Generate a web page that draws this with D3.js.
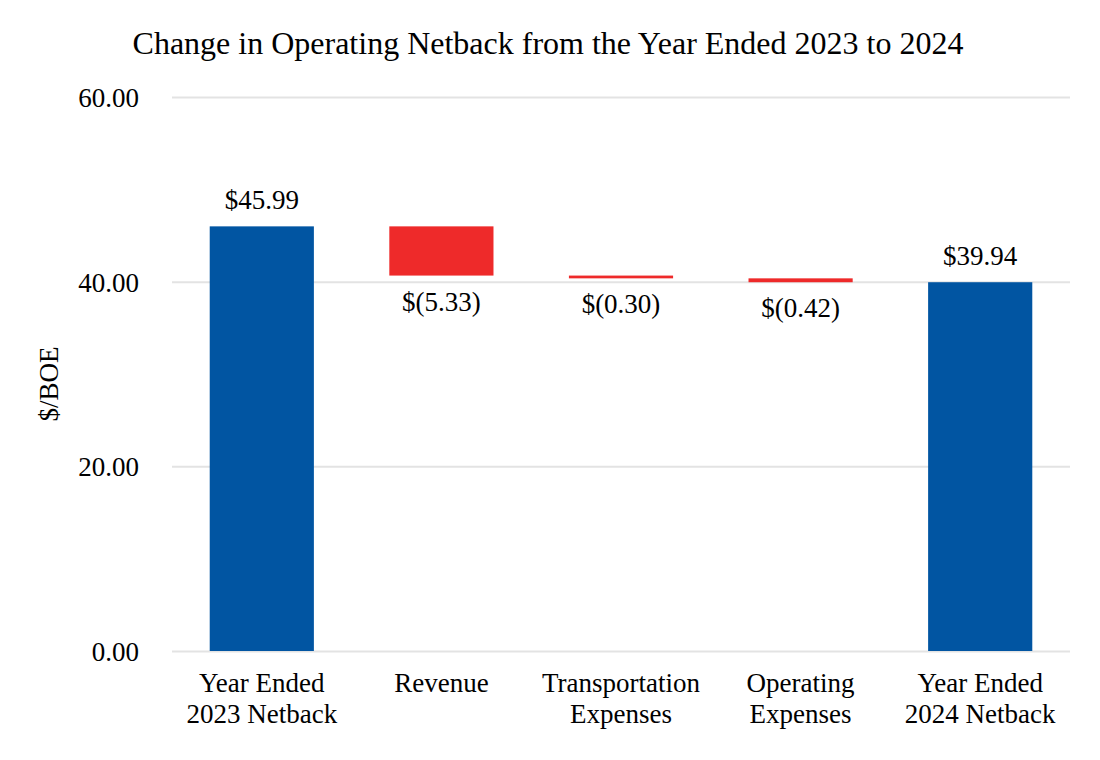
<html>
<meta http-equiv="content-type" content="text/html; charset=UTF8">
<style>
  body {margin:0; background:#fff;}
  text {font-family:"Liberation Serif","Times New Roman",serif; fill:#000;}
</style>
<body>
<svg id="svg1" width="1100" height="760"></svg>

<script src="https://cdn.jsdelivr.net/npm/d3@7"></script>
<script>
var categories=[["Year Ended","2023 Netback"],["Revenue"],["Transportation","Expenses"],["Operating","Expenses"],["Year Ended","2024 Netback"]];
var values=[45.99,-5.33,-0.30,-0.42,39.94];
var kinds=["total","delta","delta","delta","total"];
var labels=["$45.99","$(5.33)","$(0.30)","$(0.42)","$39.94"];
var yticks=[0,20,40,60];

var plotL=172,plotR=1070,plotT=97,plotB=651;
var blue="#0155a2",red="#ee2a2a";

// running totals for the waterfall
var data=[],run=0;
for (var i=0;i<values.length;i++) {
	var d={idx:i,cat:categories[i],label:labels[i],kind:kinds[i]};
	if (kinds[i]=="total") {d.y0=0;d.y1=values[i];run=values[i];}
	else {d.y0=run;d.y1=run+values[i];run=d.y1;}
	data.push(d);
}

var svg=d3.select("#svg1");
var x=d3.scaleBand().domain(d3.range(categories.length)).range([plotL,plotR]).paddingInner(0.42).paddingOuter(0.21);
var y=d3.scaleLinear().domain([0,60]).range([plotB,plotT]);

// gridlines + tick labels
var ax=svg.append("g").attr("transform","translate("+plotL+",0)")
	.call(d3.axisLeft(y).tickValues(yticks).tickSize(-(plotR-plotL)).tickFormat(d3.format(".2f")));
ax.select(".domain").remove();
ax.selectAll("line").attr("stroke","#e3e3e3").attr("stroke-width",2);
ax.selectAll("text").attr("x",-33).attr("dy","0.35em").style("font-size","27px").style("font-family","Liberation Serif").attr("fill","#000");

svg.append("text").attr("x",548).attr("y",54).attr("text-anchor","middle")
	.style("font-size","32px").text("Change in Operating Netback from the Year Ended 2023 to 2024");

svg.append("text").attr("transform","translate(58,384) rotate(-90)").attr("text-anchor","middle")
	.style("font-size","27px").text("$/BOE");

svg.selectAll("rect.bar").data(data).enter().append("rect").attr("class","bar")
	.attr("x",function(d){return x(d.idx)})
	.attr("width",x.bandwidth())
	.attr("y",function(d){return y(Math.max(d.y0,d.y1))})
	.attr("height",function(d){return Math.abs(y(d.y0)-y(d.y1))})
	.attr("fill",function(d){return d.kind=="total"?blue:red});

svg.selectAll("text.val").data(data).enter().append("text").attr("class","val")
	.attr("x",function(d){return x(d.idx)+x.bandwidth()/2})
	.attr("y",function(d){
		if (d.kind=="total") return y(d.y1)-17;
		return y(Math.min(d.y0,d.y1))+35;
	})
	.attr("text-anchor","middle").style("font-size","27px")
	.text(function(d){return d.label});

var cl=svg.selectAll("text.cat").data(data).enter().append("text").attr("class","cat")
	.attr("x",function(d){return x(d.idx)+x.bandwidth()/2})
	.attr("y",692).attr("text-anchor","middle").style("font-size","27px");
cl.selectAll("tspan").data(function(d){return d.cat}).enter().append("tspan")
	.attr("x",function(){return d3.select(this.parentNode).attr("x")})
	.attr("dy",function(t,i){return i==0?0:31})
	.text(function(t){return t});
</script>
</body>
</html>
